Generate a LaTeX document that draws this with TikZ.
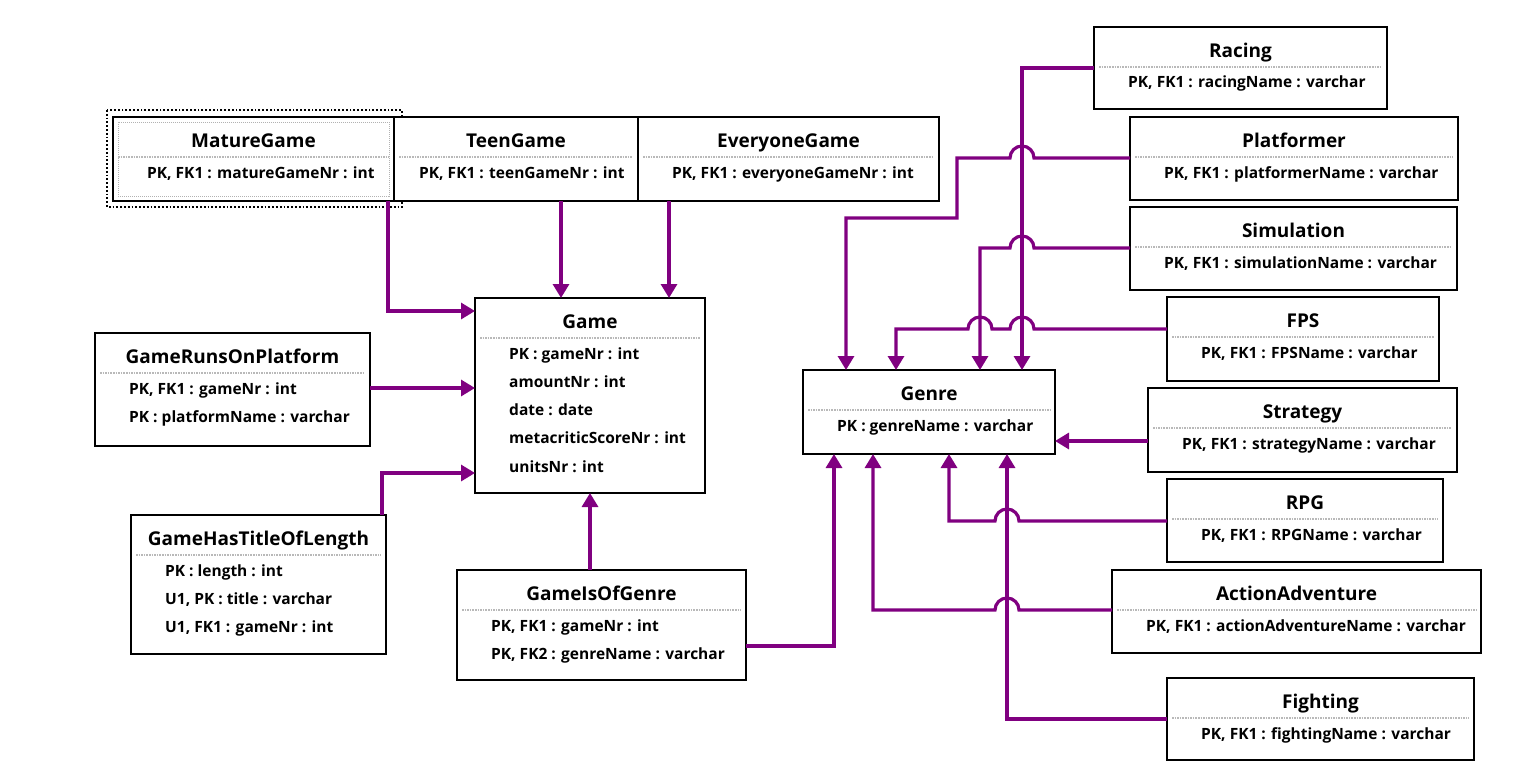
\documentclass[tikz,border=0pt]{standalone}
\usepackage{fontspec}
\setmainfont{Open Sans}
\usetikzlibrary{arrows.meta}
\definecolor{conpurple}{HTML}{800080}
\tikzset{
  ebox/.style={draw=black, line width=2.4pt, fill=white, rectangle, inner sep=0pt, outer sep=0pt, anchor=north west},
  ttl/.style={font=\fontsize{19}{21}\selectfont\bfseries, inner sep=0pt, anchor=base},
  rowt/.style={font=\fontsize{15.5}{17}\selectfont\bfseries, inner sep=0pt, anchor=base west},
  sepline/.style={draw=gray!55, line width=1.6pt, densely dotted},
  conn/.style={draw=conpurple, line width=3.2pt, -{Triangle[length=14pt,width=16pt]}},
  selbox/.style={draw=black, line width=1.8pt, dotted},
  selinner/.style={draw=gray!60, line width=1pt, densely dotted},
}
% #1 row offset, #2 name, #3 left, #4 top, #5 right, #6 bottom, #7 title, #8 rows
\newcommand{\erent}[8][34]{%
  \node[ebox, minimum width={(#5-#3)*1pt}, minimum height={(#6-#4)*1pt}] (#2) at (#3,#4) {};
  \draw[sepline] ({#3+5},{#4+40}) -- ({#5-5},{#4+40});
  \node[ttl] (#2-title) at ({(#3+#5)/2},{#4+30}) {#7};
  \foreach \t [count=\i] in {#8} {\node[rowt] at ({#3+#1},{#4+61+(\i-1)*28.3}) {\t};}
}
\begin{document}
\begin{tikzpicture}[x=1pt,y=-1pt]
\useasboundingbox (0,0) rectangle (1530,776);
\fill[white] (0,0) rectangle (1530,776);

% selection frame around MatureGame
\draw[selbox] (107,110) rectangle (402,207);

\erent{mature}{113}{117}{394}{201}{MatureGame}{{PK, FK1 : matureGameNr : int}}
\draw[selinner] (118,122) rectangle (389,196);
\erent[25]{teen}{394}{117}{638}{201}{TeenGame}{{PK, FK1 : teenGameNr : int}}
\erent{every}{638}{117}{939}{201}{EveryoneGame}{{PK, FK1 : everyoneGameNr : int}}
\erent{game}{475}{298}{705}{493}{Game}{{PK : gameNr : int},{amountNr : int},{date : date},{metacriticScoreNr : int},{unitsNr : int}}
\erent{runs}{95}{333}{370}{446}{GameRunsOnPlatform}{{PK, FK1 : gameNr : int},{PK : platformName : varchar}}
\erent{titlelen}{131}{515}{386}{654}{GameHasTitleOfLength}{{PK : length : int},{U1, PK : title : varchar},{U1, FK1 : gameNr : int}}
\erent{isof}{457}{570}{746}{680}{GameIsOfGenre}{{PK, FK1 : gameNr : int},{PK, FK2 : genreName : varchar}}
\erent{genre}{803}{370}{1055}{454}{Genre}{{PK : genreName : varchar}}
\erent{racing}{1094}{27}{1387}{109}{Racing}{{PK, FK1 : racingName : varchar}}
\erent{platformer}{1130}{117}{1458}{200}{Platformer}{{PK, FK1 : platformerName : varchar}}
\erent{simulation}{1130}{207}{1457}{290}{Simulation}{{PK, FK1 : simulationName : varchar}}
\erent{fps}{1167}{297}{1439}{381}{FPS}{{PK, FK1 : FPSName : varchar}}
\erent{strategy}{1148}{388}{1457}{472}{Strategy}{{PK, FK1 : strategyName : varchar}}
\erent{rpg}{1167}{479}{1443}{562}{RPG}{{PK, FK1 : RPGName : varchar}}
\erent{action}{1112}{570}{1481}{653}{ActionAdventure}{{PK, FK1 : actionAdventureName : varchar}}
\erent{fighting}{1167}{678}{1474}{760}{Fighting}{{PK, FK1 : fightingName : varchar}}

% connectors to Game
\draw[conn] (mature.south -| 388,0) |- (game.west |- 0,311);
\draw[conn] (teen.south -| 561,0) -- (game.north -| 561,0);
\draw[conn] (every.south -| 669,0) -- (game.north -| 669,0);
\draw[conn] (runs.east |- 0,388) -- (game.west |- 0,388);
\draw[conn] (titlelen.north -| 382,0) |- (game.west |- 0,473);
\draw[conn] (isof.north -| 590,0) -- (game.south -| 590,0);

% connectors to Genre
\draw[conn] (isof.east |- 0,646) -| (genre.south -| 834,0);
\draw[conn] (racing.west |- 0,68) -| (genre.north -| 1022,0);
\draw[conn] (platformer.west |- 0,158) -- (1034,158) arc[start angle=0,end angle=-180,radius=12]
  -- (957,158) -- (957,218) -| (genre.north -| 846,0);
\draw[conn] (simulation.west |- 0,248) -- (1034,248) arc[start angle=0,end angle=-180,radius=12]
  -| (genre.north -| 980,0);
\draw[conn] (fps.west |- 0,329) -- (1034,329) arc[start angle=0,end angle=-180,radius=12]
  -- (992,329) arc[start angle=0,end angle=-180,radius=12]
  -| (genre.north -| 896,0);
\draw[conn] (strategy.west |- 0,441) -- (genre.east |- 0,441);
\draw[conn] (rpg.west |- 0,521) -- (1019,521) arc[start angle=0,end angle=-180,radius=12]
  -| (genre.south -| 949,0);
\draw[conn] (action.west |- 0,610) -- (1019,610) arc[start angle=0,end angle=-180,radius=12]
  -| (genre.south -| 873,0);
\draw[conn] (fighting.west |- 0,719) -| (genre.south -| 1007,0);
\end{tikzpicture}
\end{document}
